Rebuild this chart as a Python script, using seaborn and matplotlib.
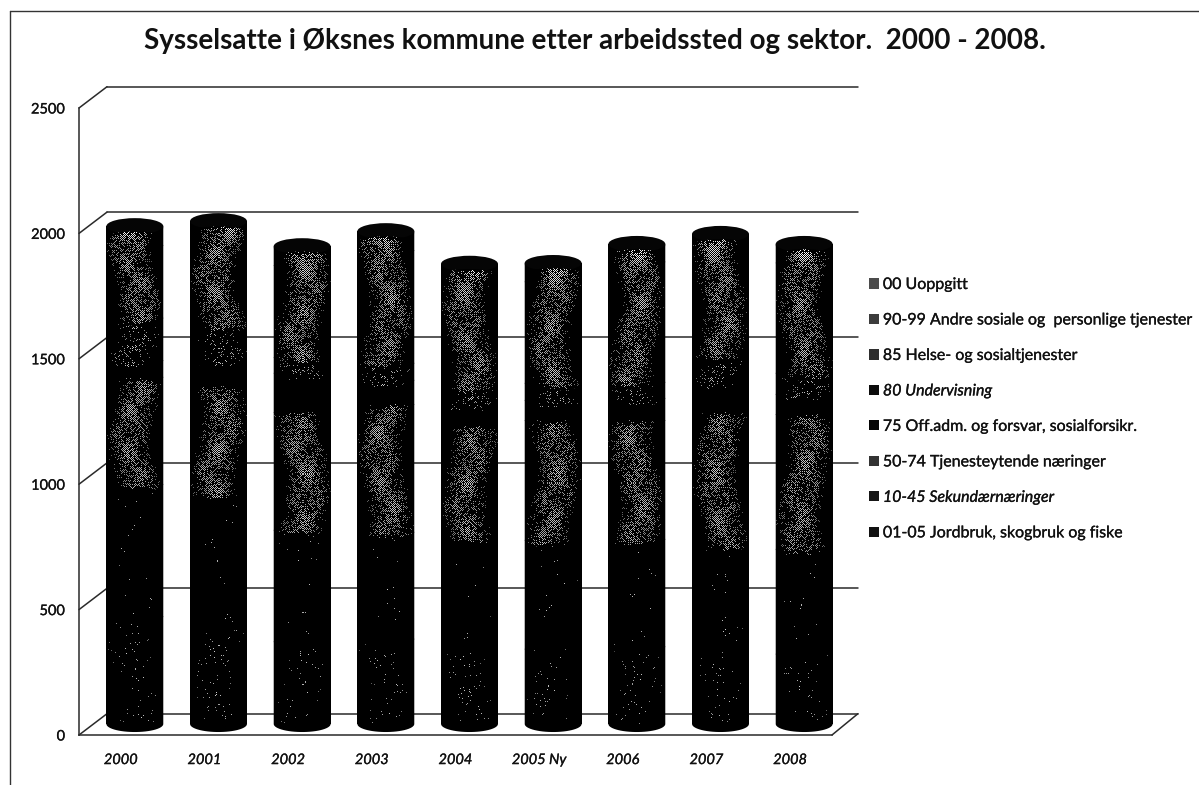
# =====================================================
# 1. IMPORT LIBRARY
# =====================================================
import numpy as np
import matplotlib
matplotlib.use("Agg")
import matplotlib.pyplot as plt
import matplotlib.patheffects as pe
import seaborn as sns
from matplotlib.lines import Line2D
from matplotlib.patches import Patch, PathPatch, Ellipse
from matplotlib.path import Path

# =====================================================
# 2. DATA
# =====================================================
years = ["2000", "2001", "2002", "2003", "2004", "2005 Ny", "2006", "2007", "2008"]

jordbruk = [430, 400, 330, 340, 320, 300, 310, 300, 280]
sekundaer = [527, 525, 444, 426, 426, 434, 428, 418, 418]
tjenesteyt = [427, 431, 470, 510, 446, 478, 474, 526, 538]
offadm = [67, 99, 156, 96, 84, 80, 88, 120, 80]
undervisning = [169, 135, 63, 68, 64, 68, 64, 107, 84]
helse = [290, 340, 367, 450, 428, 405, 480, 413, 440]
andre = [70, 70, 70, 70, 62, 68, 65, 65, 69]
uoppgitt = [5, 5, 5, 5, 5, 5, 5, 5, 5]

series = [jordbruk, sekundaer, tjenesteyt, offadm, undervisning, helse, andre, uoppgitt]
labels = [
    "01-05 Jordbruk, skogbruk og fiske",
    "10-45 Sekundærnæringer",
    "50-74 Tjenesteytende næringer",
    "75 Off.adm. og forsvar, sosialforsikr.",
    "80 Undervisning",
    "85 Helse- og sosialtjenester",
    "90-99 Andre sosiale og  personlige tjenester",
    "00 Uoppgitt",
]
# share of lit dots in each band of the scanned halftone
levels = [0.06, 0.012, 0.85, 0.0, 0.26, 0.85, 0.0, 0.0]
swatches = ["#111111", "#161616", "#333333", "#050505", "#0c0c0c", "#2e2e2e", "#3c3c3c", "#4c4c4c"]
y_ticks = [0, 500, 1000, 1500, 2000, 2500]
title = "Sysselsatte i Øksnes kommune etter arbeidssted og sektor.  2000 - 2008."

# =====================================================
# 3. FIGURE SETUP
# =====================================================
W, H = 1199, 785
sns.set_theme(style="white")
plt.rcParams["font.family"] = ["Lato", "DejaVu Sans"]
fig = plt.figure(figsize=(W / 100, H / 100), dpi=100, facecolor="white")
heavy = [pe.withStroke(linewidth=0.2, foreground="#111111")]


def px_axes(left, bottom_y, width, height):
    return fig.add_axes([left / W, (H - bottom_y) / H, width / W, height / H])


ax_wall = px_axes(79, 735, 753, 627)
ax_bars = px_axes(93, 724, 753, 627)
ax_bars.patch.set_alpha(0)

# =====================================================
# 4. WALLS AND FLOOR
# =====================================================
dx, dx_end, dy = 0.335, 0.31, 85
line_kw = dict(color="#2a2a2a", lw=1.1, clip_on=False)
ax_wall.set_xlim(-0.5, 8.5)
ax_wall.set_ylim(0, 2500)
for t in y_ticks:
    ax_wall.plot([-0.5, -0.5 + dx], [t, t + dy], **line_kw)
    ax_wall.plot([-0.5 + dx, 8.5 + dx_end], [t + dy, t + dy], **line_kw)
ax_wall.plot([8.5, 8.5 + dx_end], [0, dy], **line_kw)
ax_wall.set_xticks(range(len(years)), years, style="italic", fontsize=10.5, color="#111111")
ax_wall.set_yticks(y_ticks, [str(t) for t in y_ticks], fontsize=10.5, color="#111111")
ax_wall.tick_params(axis="x", length=0, pad=13)
ax_wall.tick_params(axis="y", length=0, pad=10)
for label in ax_wall.get_xticklabels() + ax_wall.get_yticklabels():
    label.set_path_effects(heavy)
sns.despine(ax=ax_wall, top=True, right=True)
for side in ["left", "bottom"]:
    ax_wall.spines[side].set_color("#2a2a2a")
    ax_wall.spines[side].set_linewidth(1.1)

# =====================================================
# 5. STACKED BARS
# =====================================================
bottom = np.zeros(len(years))
for values in series:
    sns.barplot(x=years, y=values, bottom=bottom, order=years, color="black",
                width=0.68, saturation=1, ax=ax_bars, linewidth=0)
    bottom = bottom + np.array(values)
totals = bottom
ax_bars.set_xlim(-0.5, 8.5)
ax_bars.set_ylim(0, 2500)
ax_bars.axis("off")

# =====================================================
# 6. CYLINDER LOOK (halftone stipple from the scan)
# =====================================================
arc_b = 32


def stipple(ax, clip, x0, x1, y0, y1, level, seed, glow=False):
    # snap the picture to whole pixels so the dot grid stays crisp
    to_px = ax.transData
    (px0, py0), (px1, py1) = np.round(to_px.transform([(x0, y0), (x1, y1)]))
    (x0, y0), (x1, y1) = to_px.inverted().transform([(px0, py0), (px1, py1)])
    nx, ny = int(px1 - px0), int(py1 - py0)
    X, Y = np.meshgrid(np.linspace(-1, 1, nx), np.linspace(0, 1, ny))
    j, i = np.meshgrid(np.arange(nx) + int(px0), np.arange(ny) + int(py0))
    speck = np.sin(i * 12.9898 + j * 78.233) * 43758.5453
    speck = speck - np.floor(speck)
    sway = 0.2 * np.sin(6.0 * Y + seed)
    body = np.clip(1 - (np.abs(X - sway) / 0.82) ** 2, 0, 1)
    fade = np.clip(np.sin(np.pi * Y) * 6, 0, 1)
    patches = 0.72 + 0.28 * np.sin(17 * Y + seed) * np.sin(5 * X + seed * 1.3)
    prob = level * body * fade * patches
    shade = 0.30 + 0.5 * body * patches
    if glow:
        prob = prob * (1 + 0.5 * Y ** 8)
        shade = shade + 0.4 * Y ** 12 * body
    lit = ((i + j) % 2 == 0) & (speck < prob)
    img = np.where(lit, np.clip(shade, 0, 1), 0)
    im = ax.imshow(img, extent=[x0, x1, y0, y1], origin="lower", cmap="gray",
                   vmin=0, vmax=1, aspect="auto", interpolation="nearest", zorder=6)
    im.set_clip_path(clip)


def band_path(x0, x1, y0, y1, top_b=0):
    # bar outline with a rounded lower edge, and a rounded upper edge if asked
    t = np.linspace(0, np.pi, 30)
    xc, r = (x0 + x1) / 2, (x1 - x0) / 2
    lower = list(zip(xc + r * np.cos(t), y0 - arc_b * np.sin(t)))
    upper = list(zip(xc - r * np.cos(t), y1 + top_b * np.sin(t)))
    verts = upper + lower + [upper[0]]
    codes = [Path.MOVETO] + [Path.LINETO] * (len(verts) - 2) + [Path.CLOSEPOLY]
    return Path(verts, codes)


for n, top in enumerate(totals):
    cap = Ellipse((n, top), 0.68, 2 * arc_b, fc="#050505", ec="none", zorder=5, clip_on=False)
    ax_bars.add_patch(cap)

for k, container in enumerate(ax_bars.containers):
    for n, bar in enumerate(container):
        x0, x1 = bar.get_x(), bar.get_x() + bar.get_width()
        y0, y1 = bar.get_y(), bar.get_y() + bar.get_height()
        band = PathPatch(band_path(x0, x1, y0, y1), fc="black", ec="none",
                         zorder=4 + k * 0.1, clip_on=False)
        ax_bars.add_patch(band)
        if k == 5:
            # the three upper bands read as one grey stretch in the scan
            top = totals[n]
            shape = PathPatch(band_path(x0, x1, y0, top - 45, top_b=24), fc="none", ec="none", zorder=6)
            ax_bars.add_patch(shape)
            stipple(ax_bars, shape, x0, x1, y0 - arc_b, top - 15, levels[k], n * 1.7, glow=True)
        elif levels[k] > 0:
            shape = PathPatch(band.get_path(), fc="none", ec="none", zorder=6)
            ax_bars.add_patch(shape)
            stipple(ax_bars, shape, x0, x1, y0 - arc_b, y1, levels[k], k + n * 1.7)
ax_bars.set_xlim(-0.5, 8.5)
ax_bars.set_ylim(0, 2500)

# =====================================================
# 7. LEGEND, TITLE, FRAME
# =====================================================
handles = [Patch(fc=c, ec="none", label=l) for c, l in zip(swatches, labels)][::-1]
leg = fig.legend(handles=handles, loc="upper left", bbox_to_anchor=(869 / W, 1 - 278 / H),
                 frameon=False, fontsize=11.5, labelspacing=1.345, handlelength=0.62,
                 handleheight=0.62, handletextpad=0.25, borderpad=0, borderaxespad=0,
                 labelcolor="#111111")
for text in leg.get_texts():
    text.set_path_effects(heavy)
    if text.get_text().startswith(("80 ", "10-45")):
        text.set_style("italic")

fig.text(595 / W, 1 - 41 / H, title, ha="center", va="center", fontsize=20,
         fontweight="bold", color="#111111")

frame_kw = dict(color="#333333", lw=1.0, transform=fig.transFigure)
fig.add_artist(Line2D([10 / W, 10 / W], [0, 1 - 11 / H], **frame_kw))
fig.add_artist(Line2D([10 / W, 1], [1 - 11 / H, 1 - 11 / H], **frame_kw))

fig.savefig("out.png", dpi=100, facecolor="white")
